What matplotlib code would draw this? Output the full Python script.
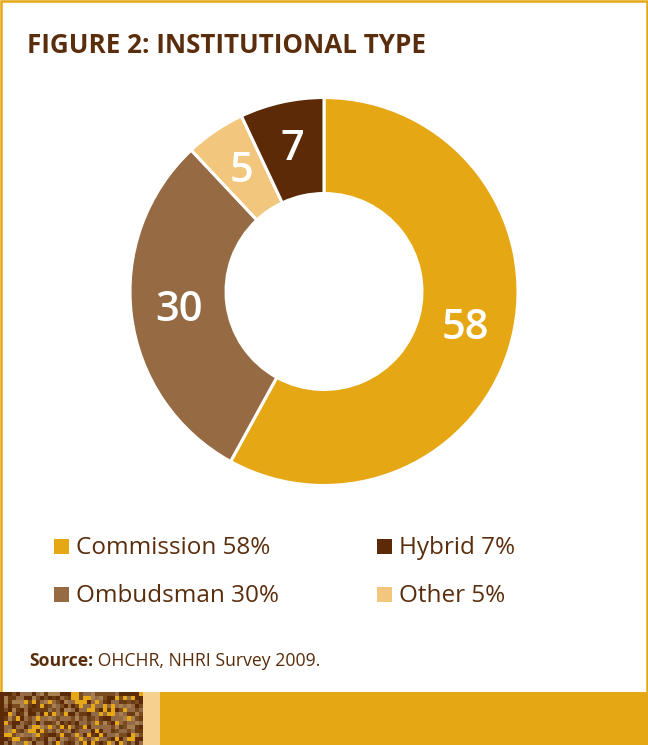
"""Donut chart of NHRI institutional types (OHCHR survey 2009)."""
import numpy as np
import matplotlib.pyplot as plt
from matplotlib.patches import Rectangle

W, H = 648, 745

categories = ['Commission', 'Ombudsman', 'Other', 'Hybrid']
shares = [58, 30, 5, 7]
colors = ['#E6A714', '#966B43', '#F2C77D', '#5C2A06']

legend_order = ['Commission', 'Hybrid', 'Ombudsman', 'Other']

title = 'FIGURE 2: INSTITUTIONAL TYPE'
source_bold = 'Source:'
source_text = ' OHCHR, NHRI Survey 2009.'

BROWN = '#5A2D0C'
GOLD = '#E6A714'
FONT = ['Open Sans', 'DejaVu Sans']


def fx(x):
    return x / W


def fy(y):
    return 1 - y / H


def main():
    fig = plt.figure(figsize=(W / 100, H / 100), dpi=100)
    fig.patch.set_facecolor('white')

    # donut
    cx, cy, r = 324, 291.5, 194
    ax = fig.add_axes([fx(cx - r), fy(cy + r), 2 * r / W, 2 * r / H])
    ring = 0.495
    wedges, texts = ax.pie(
        shares, colors=colors, startangle=90, counterclock=False,
        radius=1.0, labels=[str(v) for v in shares],
        labeldistance=1 - ring / 2,
        wedgeprops=dict(width=ring, edgecolor='white', linewidth=2.2),
        textprops=dict(color='white', fontsize=30, fontweight='semibold',
                       family=FONT))
    for t in texts:
        t.set_ha('center')
        t.set_va('center')
    ax.set_xlim(-1, 1)
    ax.set_ylim(-1, 1)
    ax.axis('off')

    # title
    fig.text(fx(27), fy(53), title, color=BROWN, fontsize=18.7,
             fontweight='bold', family=FONT, va='baseline', ha='left')

    # legend
    cmap = dict(zip(categories, colors))
    vals = dict(zip(categories, shares))
    slots = [(54, 554), (377, 554), (54, 602), (377, 602)]
    for name, (x, yb) in zip(legend_order, slots):
        fig.patches.append(Rectangle((fx(x), fy(yb)), 15 / W, 15 / H,
                                     transform=fig.transFigure,
                                     facecolor=cmap[name], edgecolor='none'))
        fig.text(fx(x + 22), fy(yb), f'{name} {vals[name]}%', color=BROWN,
                 fontsize=17.5, family=FONT, va='baseline', ha='left')

    # source
    t = fig.text(fx(29), fy(666), source_bold, color=BROWN, fontsize=12.7,
                 fontweight='bold', family=FONT, va='baseline', ha='left')
    fig.canvas.draw()
    bb = t.get_window_extent()
    fig.text(bb.x1 / W, fy(666), source_text, color=BROWN, fontsize=12.7,
             family=FONT, va='baseline', ha='left')

    # bottom band
    band_top = 692
    band = fig.add_axes([0, 0, 1, (H - band_top) / H], zorder=2)
    band.add_patch(Rectangle((0, 0), W, H - band_top, facecolor=GOLD,
                             edgecolor='none'))
    band.add_patch(Rectangle((143, 0), 17, H - band_top, facecolor='#F5D08F',
                             edgecolor='none'))
    # textured tile (deterministic pattern)
    ny, nx = 13, 36
    i, j = np.mgrid[0:ny, 0:nx]
    idx = ((i * 7 + j * 13) ^ (i * j + 3 * j)) % 7
    palette = np.array([[0x5C, 0x2A, 0x06], [0x96, 0x6B, 0x43],
                        [0xA8, 0x80, 0x50], [0xE6, 0xA7, 0x14],
                        [0x7A, 0x4A, 0x20], [0x8E, 0x6A, 0x48],
                        [0x6A, 0x3A, 0x12]]) / 255
    band.imshow(palette[idx], extent=(0, 143, 0, H - band_top),
                aspect='auto', interpolation='nearest', zorder=3)
    band.set_xlim(0, W)
    band.set_ylim(0, H - band_top)
    band.axis('off')

    # gold frame
    fig.patches.append(Rectangle((0.5 / W, 0.5 / H), 1 - 1.5 / W, 1 - 1.5 / H,
                                 transform=fig.transFigure, facecolor='none',
                                 edgecolor=GOLD, linewidth=1.8))

    fig.savefig('out.png', dpi=100)


if __name__ == '__main__':
    main()
